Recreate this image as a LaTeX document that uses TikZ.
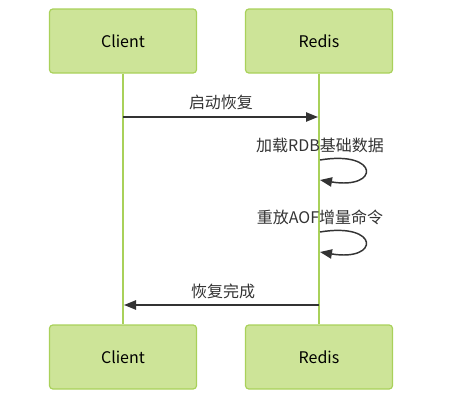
\documentclass[tikz,border=0pt]{standalone}
\usepackage{fontspec}
\setmainfont{Noto Sans CJK SC}
\usetikzlibrary{arrows.meta}
\definecolor{boxfill}{HTML}{CDE498}
\definecolor{boxline}{HTML}{A9D15A}
\definecolor{lifeline}{HTML}{A9D15A}
\definecolor{msg}{HTML}{333333}
\tikzset{
  actor/.style={draw=boxline, fill=boxfill, line width=0.9pt, rounded corners=2.5pt,
    minimum width=147\pxu, minimum height=64\pxu, inner sep=0pt, font=\fontsize{12}{14}\selectfont, text=black},
  life/.style={draw=lifeline, line width=1.5pt},
  msgline/.style={draw=msg, line width=1.1pt, -{Triangle[length=9pt,width=7pt]}},
  msglabel/.style={font=\fontsize{12}{14}\selectfont, text=msg, inner sep=0pt},
}
\newlength{\pxu}\setlength{\pxu}{0.75pt}
\begin{document}
\begin{tikzpicture}[x=0.75pt,y=-0.75pt]
\useasboundingbox (0,0) rectangle (451,407);
\node[actor] (c1) at (123,41) {Client};
\node[actor] (r1) at (319,41) {Redis};
\node[actor] (c2) at (123,357) {Client};
\node[actor] (r2) at (319,357) {Redis};
\draw[life] (c1.south) -- (c2.north);
\draw[life] (r1.south) -- (r2.north);
% message 1
\coordinate (m1a) at (123,117);
\coordinate (m1b) at (318,117);
\draw[msgline] (m1a) -- (m1b);
\node[msglabel] (l1) at (221,102) {启动恢复};
% self loop 1
\coordinate (s1a) at (320,160);
\coordinate (s1b) at (320,180);
\node[msglabel] (l2) at (320,145) {加载RDB基础数据};
\draw[msgline] (s1a) .. controls (380,150) and (380,190) .. (s1b);
% self loop 2
\coordinate (s2a) at (320,232);
\coordinate (s2b) at (320,252);
\node[msglabel] (l3) at (320,217) {重放AOF增量命令};
\draw[msgline] (s2a) .. controls (380,222) and (380,262) .. (s2b);
% message return
\coordinate (m2a) at (319,305);
\coordinate (m2b) at (124,305);
\draw[msgline] (m2a) -- (m2b);
\node[msglabel] (l4) at (223,291) {恢复完成};
\end{tikzpicture}
\end{document}
